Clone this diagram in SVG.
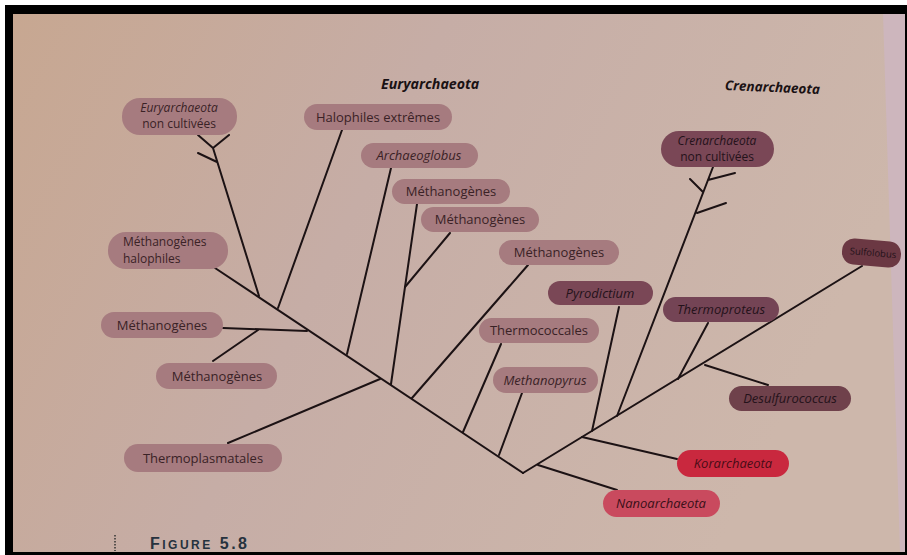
<svg xmlns="http://www.w3.org/2000/svg" width="907" height="555" viewBox="0 0 907 555">
<style>
.pill-e{fill:#a67b7f}
.pill-c{fill:#7a4756}
.t{font-family:"Open Sans","Liberation Sans",sans-serif;font-size:13px;fill:#3a2226;text-anchor:middle}
.t2{font-size:12px}
.ti{font-style:italic}
.tc{fill:#24121a}
.hdr{font-family:"Open Sans","Liberation Sans",sans-serif;font-size:13.5px;font-weight:bold;font-style:italic;fill:#1a1214}
.ln{stroke:#1c1214;stroke-width:2;fill:none;stroke-linecap:round}
</style>
<defs>
<linearGradient id="bg" x1="0" y1="0" x2="1" y2="0.3">
<stop offset="0" stop-color="#c7a791"/>
<stop offset="0.45" stop-color="#c6ada6"/>
<stop offset="1" stop-color="#cdb7ab"/>
</linearGradient>
</defs>
<rect x="0" y="0" width="907" height="555" fill="#ffffff"/>
<rect x="5" y="5" width="902" height="550" fill="#000000"/>
<rect x="13" y="14" width="892" height="538" fill="url(#bg)"/>
<polygon points="883,14 905,14 905,552 900,552" fill="#cdb6bd"/>

<text class="hdr" x="381" y="89" style="font-size:14.2px">Euryarchaeota</text>
<text class="hdr" x="725" y="92" transform="rotate(2.5 772 88)">Crenarchaeota</text>

<g id="connectors">
<line class="ln" x1="523" y1="473" x2="215" y2="268"/>
<path class="ln" d="M259,296 L213,148 M217,162 L198,153 M213,148 L198,135 M213,148 L229,135"/>
<line class="ln" x1="278" y1="308" x2="342" y2="130"/>
<line class="ln" x1="223" y1="328" x2="307" y2="331"/>
<line class="ln" x1="213" y1="361" x2="258" y2="330"/>
<line class="ln" x1="391" y1="168" x2="347" y2="354"/>
<line class="ln" x1="417" y1="204" x2="391" y2="384"/>
<line class="ln" x1="450" y1="233" x2="405" y2="287"/>
<line class="ln" x1="228" y1="443" x2="380" y2="379"/>
<line class="ln" x1="528" y1="265" x2="412" y2="398"/>
<line class="ln" x1="501" y1="344" x2="463" y2="432"/>
<line class="ln" x1="522" y1="393" x2="499" y2="455"/>
<line class="ln" x1="523" y1="473" x2="862" y2="266"/>
<line class="ln" x1="538" y1="465" x2="617" y2="490"/>
<line class="ln" x1="582" y1="437" x2="677" y2="459"/>
<line class="ln" x1="619" y1="307" x2="592" y2="431"/>
<path class="ln" d="M617,416 L713,167 M708,180 L735,173 M703,192 L690,179 M697,213 L726,203"/>
<line class="ln" x1="708" y1="323" x2="678" y2="379"/>
<line class="ln" x1="705" y1="365" x2="768" y2="385"/>
</g>

<g id="n-eury-nc"><rect class="pill-e" x="122" y="98" width="115" height="37" rx="18"/>
<text class="t t2 ti" x="179" y="111.5">Euryarchaeota</text><text class="t t2" x="179" y="128">non cultivées</text></g>
<g id="n-halo-ext"><rect class="pill-e" x="304" y="104" width="148" height="26" rx="13"/>
<text class="t" x="378" y="122">Halophiles extrêmes</text></g>
<g id="n-archaeo"><rect class="pill-e" x="361" y="143" width="117" height="25" rx="12.5"/>
<text class="t ti" x="419" y="160">Archaeoglobus</text></g>
<g id="n-meth1"><rect class="pill-e" x="392" y="179" width="118" height="25" rx="12.5"/>
<text class="t" x="451" y="196">Méthanogènes</text></g>
<g id="n-meth2"><rect class="pill-e" x="421" y="207" width="118" height="25" rx="12.5"/>
<text class="t" x="480" y="224">Méthanogènes</text></g>
<g id="n-meth-halo"><rect class="pill-e" x="108" y="232" width="120" height="37" rx="18"/>
<text class="t t2" x="123" y="246" style="text-anchor:start">Méthanogènes</text><text class="t t2" x="123" y="262.5" style="text-anchor:start">halophiles</text></g>
<g id="n-meth3"><rect class="pill-e" x="499" y="240" width="120" height="25" rx="12.5"/>
<text class="t" x="559" y="257">Méthanogènes</text></g>
<g id="n-meth-left"><rect class="pill-e" x="101" y="312" width="122" height="26" rx="13"/>
<text class="t" x="162" y="330">Méthanogènes</text></g>
<g id="n-meth-low"><rect class="pill-e" x="156" y="363" width="121" height="26" rx="13"/>
<text class="t" x="217" y="381">Méthanogènes</text></g>
<g id="n-thermoplasma"><rect class="pill-e" x="124" y="444" width="158" height="28" rx="14"/>
<text class="t" x="203" y="463">Thermoplasmatales</text></g>
<g id="n-thermococ"><rect class="pill-e" x="479" y="318" width="120" height="25" rx="12.5"/>
<text class="t" x="539" y="335">Thermococcales</text></g>
<g id="n-methanopyrus"><rect class="pill-e" x="493" y="367" width="105" height="26" rx="13"/>
<text class="t ti" x="545" y="385">Methanopyrus</text></g>

<g id="n-pyrodictium"><rect class="pill-c" x="548" y="281" width="105" height="24" rx="12"/>
<text class="t ti tc" x="600" y="298">Pyrodictium</text></g>
<g id="n-cren-nc"><rect class="pill-c" x="661" y="131" width="113" height="36" rx="18"/>
<text class="t t2 ti tc" x="717" y="144.5">Crenarchaeota</text><text class="t t2 tc" x="717" y="161">non cultivées</text></g>
<g id="n-thermoproteus"><rect class="pill-c" x="663" y="297" width="116" height="25" rx="12.5" style="fill:#744455"/>
<text class="t ti tc" x="721" y="314">Thermoproteus</text></g>
<g id="n-desulfuro"><rect class="pill-c" x="729" y="386" width="122" height="25" rx="12.5" style="fill:#6f414b"/>
<text class="t ti tc" x="790" y="403">Desulfurococcus</text></g>
<g id="n-sulfolobus" transform="rotate(5 871 253)"><rect class="pill-c" x="842" y="240" width="59" height="26" rx="12" style="fill:#6b3843"/>
<text class="t tc" x="873" y="256" style="font-size:9.5px">Sulfolobus</text></g>
<g id="n-korarch"><rect x="677" y="450" width="112" height="27" rx="13.5" fill="#c9283e"/>
<text class="t ti" x="733" y="468" style="fill:#4a0c16">Korarchaeota</text></g>
<g id="n-nanoarch"><rect x="603" y="490" width="117" height="27" rx="13.5" fill="#c94a5e"/>
<text class="t ti" x="661" y="508" style="fill:#3a1018">Nanoarchaeota</text></g>

<line x1="115" y1="535" x2="115" y2="551" stroke="#333" stroke-width="1.5" stroke-dasharray="1.5,1.5"/>
<text x="150" y="549" textLength="97" lengthAdjust="spacing" font-family="'Liberation Sans',Arial,sans-serif" font-weight="bold" fill="#26323e"><tspan font-size="16">F</tspan><tspan font-size="12">IGURE</tspan><tspan font-size="16"> 5.8</tspan></text>
</svg>
